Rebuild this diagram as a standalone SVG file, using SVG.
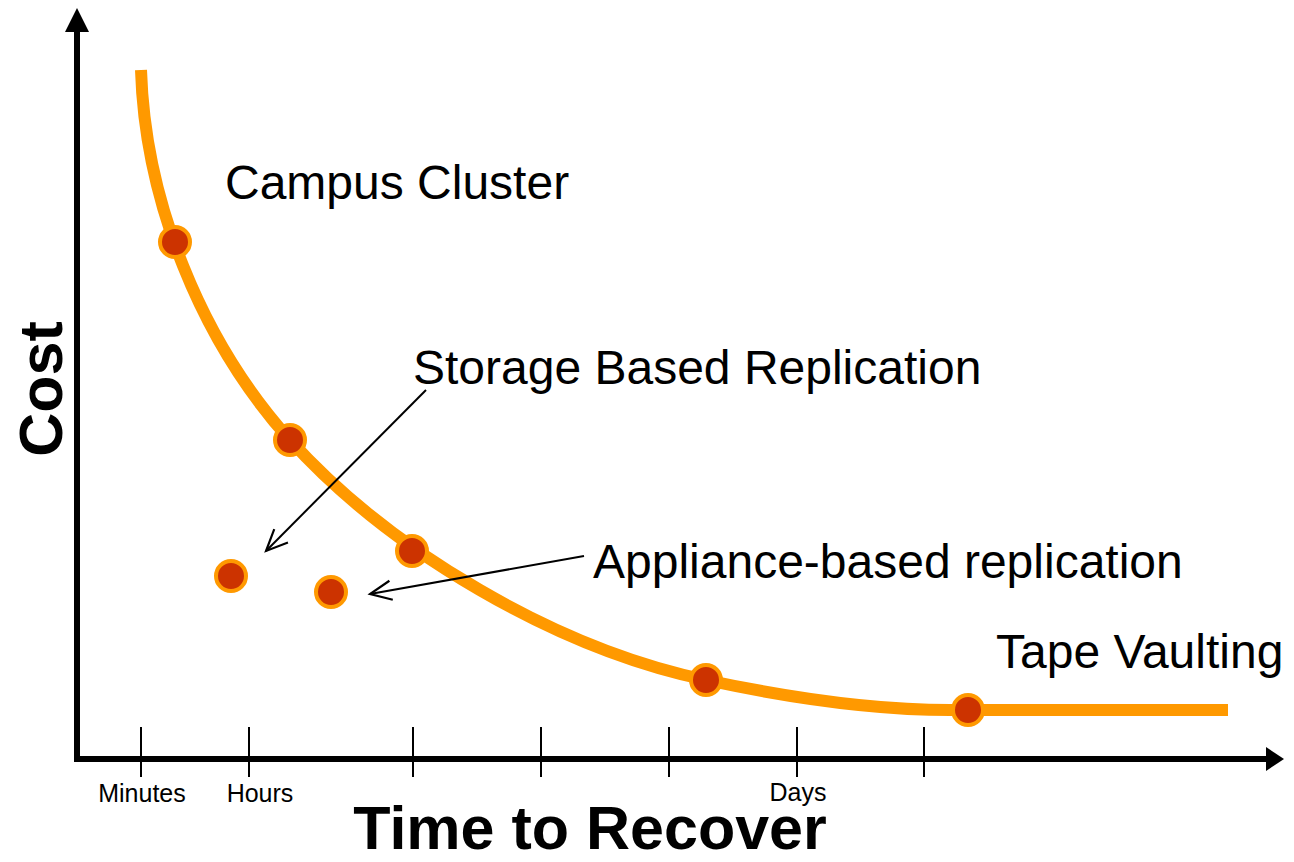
<svg xmlns="http://www.w3.org/2000/svg" width="1294" height="862" viewBox="0 0 1294 862">
<style>
.lbl{font-family:"Liberation Sans",Arial,sans-serif;font-size:48px;fill:#000}
.tick{font-family:"Liberation Sans",Arial,sans-serif;font-size:25px;fill:#000;text-anchor:middle}
.title{font-family:"Liberation Sans",Arial,sans-serif;font-size:61px;font-weight:bold;fill:#000}
.axis{stroke:#000;stroke-width:6;fill:none}
.tk{stroke:#000;stroke-width:2}
.dot{fill:#CC3300;stroke:#FF9900;stroke-width:4}
.ptr{stroke:#000;stroke-width:2;fill:none}
</style>
<defs>
<marker id="open" markerUnits="userSpaceOnUse" markerWidth="30" markerHeight="30" viewBox="-24 -12 28 24" refX="0" refY="0" orient="auto">
<path d="M-20,-9 L0,0 L-20,9" fill="none" stroke="#000" stroke-width="2"/>
</marker>
</defs>
<rect width="1294" height="862" fill="#fff"/>
<g id="axes">
<line class="axis" x1="77" y1="28" x2="77" y2="762"/>
<polygon points="77,8 65,32 89,32" fill="#000"/>
<line class="axis" x1="74" y1="759" x2="1268" y2="759"/>
<polygon points="1284,759 1266,747 1266,771" fill="#000"/>
<line class="tk" x1="141" y1="727" x2="141" y2="777"/>
<line class="tk" x1="249" y1="727" x2="249" y2="777"/>
<line class="tk" x1="413" y1="727" x2="413" y2="777"/>
<line class="tk" x1="541" y1="727" x2="541" y2="777"/>
<line class="tk" x1="669" y1="727" x2="669" y2="777"/>
<line class="tk" x1="797" y1="727" x2="797" y2="777"/>
<line class="tk" x1="924" y1="727" x2="924" y2="777"/>
<text class="tick" x="142" y="802">Minutes</text>
<text class="tick" x="260" y="802">Hours</text>
<text class="tick" x="798" y="801">Days</text>
<text class="title" x="590" y="849" text-anchor="middle">Time to Recover</text>
<text class="title" transform="translate(62,389) rotate(-90)" text-anchor="middle">Cost</text>
</g>
<g id="curve">
<path d="M141,70 C145,200 200,340 290,440 C390.5,551 556,648.5 706,680 C790,698 870,710 950,710 L1228,710" fill="none" stroke="#FF9900" stroke-width="12"/>
</g>
<g id="connectors">
<line class="ptr" x1="426" y1="390" x2="266" y2="551" marker-end="url(#open)"/>
<line class="ptr" x1="584" y1="556" x2="370" y2="594" marker-end="url(#open)"/>
</g>
<g id="campus-cluster">
<circle class="dot" cx="175" cy="242" r="15"/>
<text class="lbl" x="225" y="199">Campus Cluster</text>
</g>
<g id="storage-based-replication">
<circle class="dot" cx="290" cy="440" r="15"/>
<circle class="dot" cx="231" cy="576" r="15"/>
<text class="lbl" x="413" y="384">Storage Based Replication</text>
</g>
<g id="appliance-based-replication">
<circle class="dot" cx="412" cy="551" r="15"/>
<circle class="dot" cx="331" cy="592" r="15"/>
<text class="lbl" x="593" y="578">Appliance-based replication</text>
</g>
<g id="mid-dot">
<circle class="dot" cx="706" cy="680" r="15"/>
</g>
<g id="tape-vaulting">
<circle class="dot" cx="968" cy="710" r="15"/>
<text class="lbl" x="996" y="668">Tape Vaulting</text>
</g>
</svg>
